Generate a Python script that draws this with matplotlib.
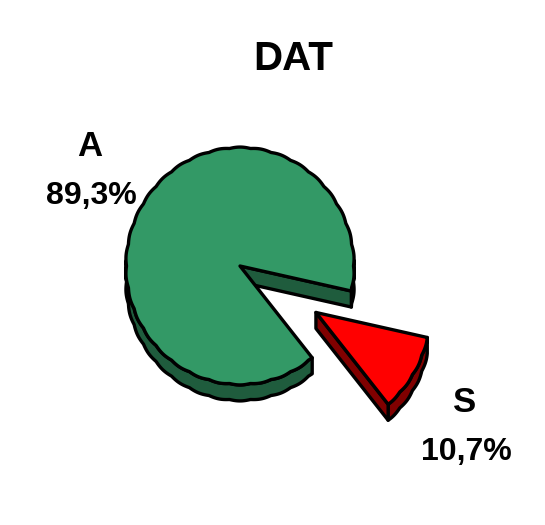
import matplotlib
matplotlib.use('Agg')
import matplotlib.pyplot as plt
import numpy as np

plt.rcParams['font.family'] = ['Liberation Sans', 'DejaVu Sans']

# data
title = 'DAT'
labels = ['A', 'S']
shares = [89.3, 10.7]
value_labels = ['89,3%', '10,7%']
top_colors = ['#339966', '#ff0000']
side_colors = ['#1f5c3d', '#800000']

# pie geometry, in pixels of the picture
cx, cy = 240, 266
rx, ry = 113.5, 118
depth = 16
explode = 89
start = -12.2
ripple = 0.9
lw = 2.4


def rim(a1, a2, ox=0.0, oy=0.0):
    # scalloped outer edge, like the original low-res export
    deg = np.linspace(a1, a2, max(int(abs(a2 - a1) * 3), 12))
    t = np.radians(deg)
    wob = 1 + ripple / rx * np.abs(np.sin(t * 17))
    return deg, cx + ox + rx * wob * np.cos(t), cy + oy - ry * wob * np.sin(t)


def draw_slice(a1, a2, top, side, ox=0.0, oy=0.0):
    deg, x, y = rim(a1, a2, ox, oy)
    px, py = cx + ox, cy + oy

    # outer wall, only the runs of the rim that face the viewer
    front = np.sin(np.radians(deg)) <= 0.05
    edges = np.flatnonzero(np.diff(front.astype(int))) + 1
    for run in np.split(np.arange(len(x)), edges):
        if front[run[0]] and len(run) > 1:
            xs, ys = x[run], y[run]
            ax.fill(np.r_[xs, xs[::-1]], np.r_[ys, ys[::-1] + depth], fc=side, ec='black', lw=lw, joinstyle='round')

    # flat cut face, only the first edge is seen from the front
    ax.fill([px, x[0], x[0], px], [py, y[0], y[0] + depth, py + depth], fc=side, ec='black', lw=lw, joinstyle='round')

    # top surface
    ax.fill(np.r_[px, x], np.r_[py, y], fc=top, ec='black', lw=lw, joinstyle='round')


fig = plt.figure(figsize=(5.45, 5.25), dpi=100)
ax = fig.add_axes([0, 0, 1, 1])
ax.set_xlim(0, 545)
ax.set_ylim(525, 0)
ax.axis('off')

sweep_a = shares[0] / sum(shares) * 360
sweep_s = shares[1] / sum(shares) * 360

# big slice goes counter-clockwise from the start angle, small one fills the gap
draw_slice(start, start + sweep_a, top_colors[0], side_colors[0])
mid = np.radians(start - sweep_s / 2)
draw_slice(start - sweep_s, start, top_colors[1], side_colors[1], explode * np.cos(mid), -explode * np.sin(mid))

ax.text(293, 59, title, ha='center', va='center', fontsize=29, fontweight='bold', color='black')
ax.text(90, 146, labels[0], ha='center', va='center', fontsize=25, fontweight='bold')
ax.text(91, 196, value_labels[0], ha='center', va='center', fontsize=23, fontweight='bold')
ax.text(465, 402, labels[1], ha='center', va='center', fontsize=25, fontweight='bold')
ax.text(466, 452, value_labels[1], ha='center', va='center', fontsize=23, fontweight='bold')

fig.savefig('out.png', dpi=100)
